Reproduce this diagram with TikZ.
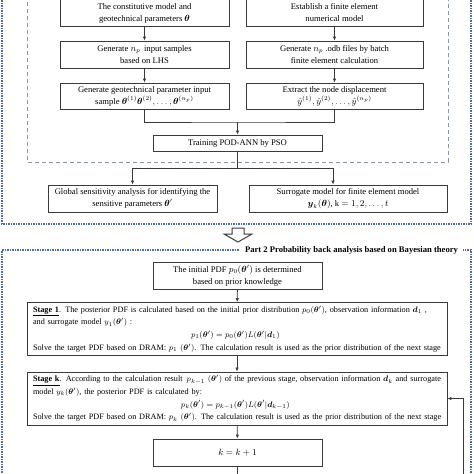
\documentclass[tikz,border=0pt]{standalone}
\usepackage{amsmath,amssymb}
\usepackage{fontspec}
\setmainfont{Liberation Serif}
\usetikzlibrary{arrows.meta}
\definecolor{boxc}{HTML}{3A3A3A}
\definecolor{bluedash}{HTML}{4F6D9A}
\definecolor{graydash}{HTML}{8A94A6}
\newcommand{\bt}{\boldsymbol{\theta}}
\begin{document}
\begin{tikzpicture}[x=1pt,y=-1pt,
  box/.style={draw=boxc, line width=0.9pt, fill=white, align=center, inner sep=1pt,
    font=\fontsize{8.6}{12}\selectfont},
  stagebox/.style={draw=boxc, line width=0.9pt, fill=white, align=left, inner xsep=6pt,
    text width=408pt, minimum width=420pt, font=\fontsize{8.25}{12.6}\selectfont},
  arr/.style={draw=boxc, line width=0.8pt, -{Latex[length=4pt,width=3.5pt]}},
  ln/.style={draw=boxc, line width=0.8pt},
  bluebox/.style={draw=bluedash, line width=1.5pt, dash pattern=on 1.5pt off 1pt},
  graybox/.style={draw=graydash, line width=0.8pt, dash pattern=on 4pt off 3pt}]
\useasboundingbox (0,0) rectangle (474,474);

% Part 1 frames
\draw[bluebox] (2,-5) -- (2,224) -- (471,224) -- (471,-5);
\draw[graybox] (27,-5) -- (27,162) -- (448,162) -- (448,-5);

% Part 1 nodes
\node[box, minimum width=169, minimum height=27] (l1) at (144.5,13)
  {The constitutive model and\\ geotechnical parameters $\bt$};
\node[box, minimum width=177, minimum height=27] (r1) at (334.5,13)
  {Establish a finite element\\ numerical model};
\node[box, minimum width=169, minimum height=27] (l2) at (144.5,54.5)
  {Generate $n_p$\, input samples\\ based on LHS};
\node[box, minimum width=177, minimum height=27] (r2) at (334.5,54.5)
  {Generate $n_p$ .odb files by batch\\ finite element calculation};
\node[box, minimum width=169, minimum height=26] (l3) at (144.5,96)
  {Generate geotechnical parameter input\\ sample $\bt^{(1)}\bt^{(2)},\dots,\bt^{(n_p)}$};
\node[box, minimum width=177, minimum height=26] (r3) at (334.5,96)
  {Extract the node displacement\\ $\hat{y}^{(1)},\hat{y}^{(2)},\dots,\hat{y}^{(n_p)}$};
\node[box, minimum width=169, minimum height=16] (train) at (237.5,143)
  {Training POD-ANN by PSO};
\node[box, minimum width=169, minimum height=27] (glob) at (132.5,198.5)
  {Global sensitivity analysis for identifying the\\ sensitive parameters $\bt'$};
\node[box, minimum width=198, minimum height=27] (surr) at (348,198.5)
  {Surrogate model for finite element model\\ $\boldsymbol{y}_k(\bt)$, k $= 1,2,\dots,t$};

\draw[arr] (l1) -- (l2);
\draw[arr] (l2) -- (l3);
\draw[arr] (r1) -- (r2);
\draw[arr] (r2) -- (r3);
\coordinate (j1) at (237.5,122);
\draw[ln] (l3.south) |- (j1) -| (r3.south);
\draw[arr] (j1) -- (train.north);
\coordinate (j2) at (237.5,168);
\draw[ln] (train.south) -- (j2);
\draw[arr] (j2) -| (glob.north);
\draw[arr] (j2) -| ([xshift=-15pt]surr.north);

% big hollow arrow
\draw[draw=boxc, line width=1pt, fill=white, line join=miter]
  (232,228) -- (244,228) -- (244,234) -- (252,234) -- (238,242) -- (224,234) -- (232,234) -- cycle;

% Part 2 frame
\draw[bluebox] (2,480) -- (2,250) -- (471,250) -- (471,480);
\node[fill=white, inner xsep=5pt, inner ysep=1pt, font=\fontsize{8.6}{10}\selectfont\bfseries] (p2lab) at (351.5,250)
  {Part 2 Probability back analysis based on Bayesian theory};

% Part 2 nodes
\node[box, minimum width=169, minimum height=27] (init) at (237.5,275.5)
  {The initial PDF $p_0(\bt')$ is determined\\ based on prior knowledge};
\node[stagebox, minimum height=52] (s1) at (237,329)
  {\mbox{\underline{\textbf{Stage 1}}. The posterior PDF is calculated based on the initial prior distribution $p_0(\bt')$, observation information $\boldsymbol{d}_1$ ,}\\
   \mbox{and surrogate model $y_1(\bt')$ :}\\
   \mbox{\hspace*{158pt}$p_1(\bt') = p_0(\bt')L(\bt'|\boldsymbol{d}_1)$}\\
   \mbox{Solve the target PDF based on DRAM: $p_1$ $(\bt')$. The calculation result is used as the prior distribution of the next stage}};
\node[stagebox, minimum height=53] (sk) at (237,398.5)
  {\mbox{\underline{\textbf{Stage k}}. According to the calculation result\, $p_{k-1}$ $(\bt')$ of the previous stage, observation information $\boldsymbol{d}_k$ and surrogate}\\
   \mbox{model $y_k(\bt')$, the posterior PDF is calculated by:}\\
   \mbox{\hspace*{148pt}$p_k(\bt') = p_{k-1}(\bt')L(\bt'|\boldsymbol{d}_{k-1})$}\\
   \mbox{Solve the target PDF based on DRAM: $p_k$ $(\bt')$. The calculation result is used as the prior distribution of the next stage}};
\node[box, minimum width=169, minimum height=27] (kk) at (237.5,452.5)
  {$k = k+1$};

\draw[arr] (init) -- (s1);
\draw[arr] (s1) -- (sk);
\draw[arr] (sk) -- (kk);
\coordinate (kout) at (237.5,480);
\draw[ln] (kk.south) -- (kout);
\coordinate (lp) at (463,480);
\draw[arr] (lp) |- (sk.east);
\end{tikzpicture}
\end{document}
